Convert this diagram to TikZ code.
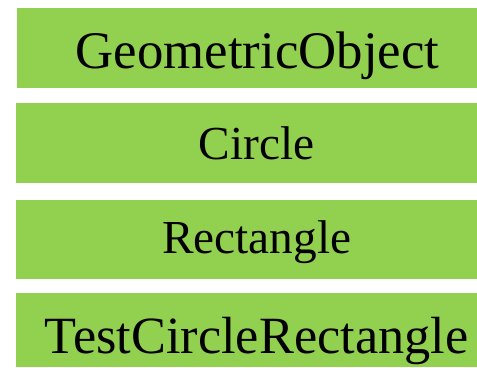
\documentclass[tikz,border=0pt]{standalone}
\usepackage{fontspec}
\setmainfont{Liberation Serif}
\definecolor{boxgreen}{HTML}{92D050}
\begin{document}
\begin{tikzpicture}[x=1bp,y=-1bp,
  greenbox/.style={fill=boxgreen,draw=none,inner sep=0pt,outer sep=0pt},
  boxtext/.style={anchor=base,inner sep=0pt}]
\useasboundingbox (0,0) rectangle (477,367);
\fill[boxgreen] (17,8) rectangle (477,87.7);
\fill[boxgreen] (16,103.3) rectangle (477,183.3);
\fill[boxgreen] (16,200) rectangle (477,279.3);
\fill[boxgreen] (16,293.3) rectangle (477,367);
\node[boxtext,font=\fontsize{53}{60}\selectfont] (t1) at (257.5,68.5) {GeometricObject};
\node[boxtext,font=\fontsize{47.5}{55}\selectfont] (t2) at (256.5,159) {Circle};
\node[boxtext,font=\fontsize{47.5}{55}\selectfont] (t3) at (256.7,253) {Rectangle};
\node[boxtext,font=\fontsize{52.5}{60}\selectfont] (t4) at (256.5,353) {TestCircleRectangle};
\end{tikzpicture}
\end{document}
